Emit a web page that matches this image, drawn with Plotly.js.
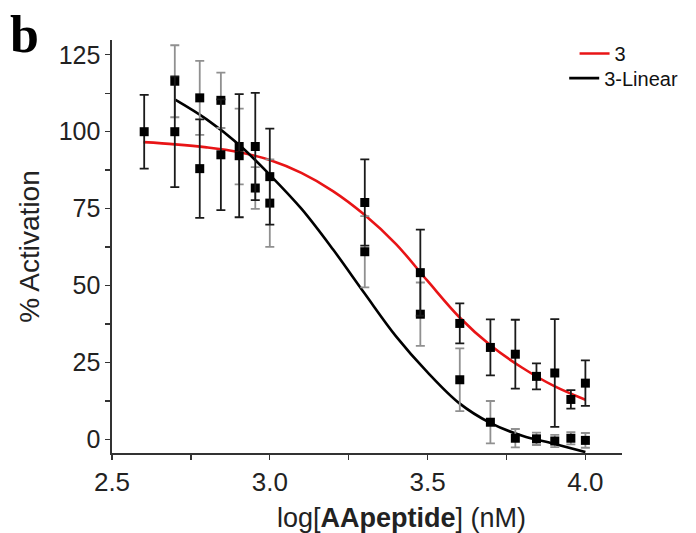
<!DOCTYPE html>
<html>
<head>
<meta charset="utf-8">
<script src="https://cdn.plot.ly/plotly-3.0.1.min.js"></script>
<style>html,body{margin:0;padding:0;background:#fff;}#chart{width:696px;height:533px;}</style>
</head>
<body>
<div id="chart"></div>
<script>
// log[AApeptide] (nM)
const xSeries3 = [2.602, 2.699, 2.778, 2.845, 2.903, 2.954, 3.0, 3.301, 3.477, 3.602, 3.699, 3.778, 3.845, 3.903, 3.954, 4.0];
const ySeries3 = [100, 100, 88, 92.5, 92.2, 95.2, 85.4, 77, 54.2, 37.7, 29.9, 27.7, 20.5, 21.6, 13, 18.3];
const eSeries3 = [12, 18, 16, 18, 20, 17.4, 15.6, 14, 14, 6.5, 9.1, 11.2, 4.2, 17.5, 3, 7.4];

const xLinear = [2.699, 2.778, 2.845, 2.903, 2.954, 3.0, 3.301, 3.477, 3.602, 3.699, 3.778, 3.845, 3.903, 3.954, 4.0];
const yLinear = [116.4, 111, 110.2, 95.2, 81.7, 76.8, 61, 40.7, 19.4, 5.6, 0.4, 0.2, -0.5, 0.4, -0.3];
const eLinear = [11.7, 12, 9, 12.3, 6.8, 14.2, 11.6, 10.3, 10.2, 6.9, 3, 2, 2, 2, 2.4];

// fitted curves
const fit3X = [2.6, 2.7, 2.8, 2.9, 3.0, 3.1, 3.2, 3.3, 3.4, 3.5, 3.6, 3.7, 3.8, 3.9, 4.0];
const fit3Y = [96.6, 95.9, 94.9, 93.4, 90.8, 86.6, 80.7, 73, 63.5, 51.5, 39.8, 30.5, 23.3, 17.4, 12.9];
const fitLinX = [2.7, 2.8, 2.9, 3.0, 3.1, 3.2, 3.3, 3.4, 3.5, 3.6, 3.7, 3.8, 3.9, 4.0];
const fitLinY = [110.4, 104, 96, 86, 75, 61.8, 47.5, 33.5, 21.8, 11.8, 5.3, 1.2, -1.4, -4.1];

const legendNames = ['3', '3-Linear'];
const xTickVals = [2.5, 3.0, 3.5, 4.0];
const xTickText = ['2.5', '3.0', '3.5', '4.0'];
const yTickVals = [0, 25, 50, 75, 100, 125];

const FONT = 'Liberation Sans, Arial, sans-serif';

const traces = [
  {x: fit3X, y: fit3Y, type: 'scatter', mode: 'lines', name: legendNames[0], legend: 'legend',
   line: {color: '#e81416', width: 2.6, shape: 'spline', smoothing: 1}},
  {x: fitLinX, y: fitLinY, type: 'scatter', mode: 'lines', name: legendNames[1], legend: 'legend2',
   line: {color: '#000000', width: 2.6, shape: 'spline', smoothing: 1}},
  {x: xLinear, y: yLinear, type: 'scatter', mode: 'markers', showlegend: false,
   marker: {symbol: 'square', size: 9, color: '#000'},
   error_y: {type: 'data', array: eLinear, visible: true, color: '#909090', thickness: 1.8, width: 4.5}},
  {x: xSeries3, y: ySeries3, type: 'scatter', mode: 'markers', showlegend: false,
   marker: {symbol: 'square', size: 9, color: '#000'},
   error_y: {type: 'data', array: eSeries3, visible: true, color: '#1a1a1a', thickness: 1.8, width: 4.5}}
];

const legendFont = {family: FONT, size: 20, color: '#111'};

const layout = {
  width: 696, height: 533,
  margin: {l: 112, r: 74, t: 40, b: 80},
  paper_bgcolor: '#fff', plot_bgcolor: '#fff',
  font: {family: FONT, size: 25, color: '#222'},
  showlegend: true,
  legend: {x: 0.907, y: 1.0145, xanchor: 'left', yanchor: 'top', bgcolor: 'rgba(0,0,0,0)', font: legendFont},
  legend2: {x: 1.12, y: 0.955, xanchor: 'right', yanchor: 'top', bgcolor: 'rgba(0,0,0,0)', font: legendFont},
  xaxis: {
    range: [2.5, 4.116], showgrid: false, zeroline: false, automargin: false,
    showline: true, linecolor: '#333', linewidth: 1.6,
    ticks: 'outside', ticklen: 5, tickwidth: 1.4, tickcolor: '#333',
    tickvals: xTickVals, ticktext: xTickText,
    minor: {dtick: 0.25, tick0: 2.5, ticks: 'outside', ticklen: 5, tickwidth: 1.4, tickcolor: '#333', showgrid: false},
    tickfont: {family: FONT, size: 26, color: '#222'}
  },
  yaxis: {
    range: [-4.4, 129.8], showgrid: false, zeroline: false, automargin: false,
    showline: true, linecolor: '#333', linewidth: 1.6,
    ticks: 'outside', ticklen: 5, tickwidth: 1.4, tickcolor: '#333',
    tickvals: yTickVals,
    minor: {dtick: 12.5, tick0: 0, ticks: 'outside', ticklen: 5, tickwidth: 1.4, tickcolor: '#333', showgrid: false},
    tickfont: {family: FONT, size: 25, color: '#222'},
    title: {text: '% Activation', font: {family: FONT, size: 28, color: '#222'}, standoff: 11}
  },
  annotations: [
    {text: 'log[<b>AApeptide</b>] (nM)', xref: 'paper', yref: 'paper',
     x: (401 - 112) / 510, y: -0.158, xanchor: 'center', yanchor: 'middle', showarrow: false,
     font: {family: FONT, size: 27, color: '#222'}},
    {text: '<b>b</b>', xref: 'paper', yref: 'paper', x: -0.204, y: 1.087, xanchor: 'left', yanchor: 'top',
     showarrow: false, font: {family: 'Liberation Serif, Times New Roman, serif', size: 52, color: '#000'}}
  ]
};

Plotly.newPlot('chart', traces, layout, {displayModeBar: false, staticPlot: true});
</script>
</body>
</html>
